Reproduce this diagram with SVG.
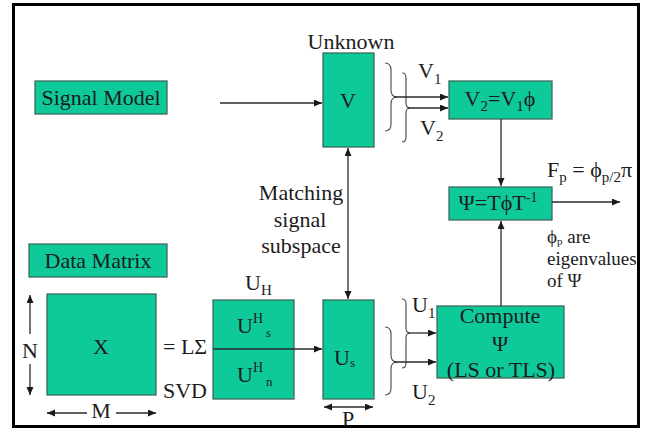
<svg xmlns="http://www.w3.org/2000/svg" width="653" height="430" viewBox="0 0 653 430">
<style>
.box{fill:#0ec99a;stroke:#3d6b5b;stroke-width:1.3}
text{font-family:'Liberation Serif','Nimbus Roman','Nimbus Roman No9 L','FreeSerif','Noto Serif','DejaVu Serif','Times New Roman',Times,serif;fill:#1c1c1c}
.t{font-size:22px}
.s{font-size:19px}
.m{text-anchor:middle}
.ln{fill:none;stroke:#2a2a2a;stroke-width:1.3}
.br{fill:none;stroke:#555;stroke-width:1.2}
</style>
<defs>
<marker id="ah" markerUnits="userSpaceOnUse" markerWidth="9" markerHeight="8" refX="8" refY="3.5" orient="auto-start-reverse">
<path d="M0,0 L8,3.5 L0,7 z" fill="#1a1a1a"/>
</marker>
</defs>
<rect x="0" y="0" width="653" height="430" fill="#fff"/>
<rect x="13.5" y="4.5" width="625" height="422" fill="#fff" stroke="#000" stroke-width="3"/>

<g id="signal-model"><rect class="box" x="35" y="81" width="132" height="33"/><text class="t m" x="101" y="105">Signal Model</text></g>
<g id="data-matrix"><rect class="box" x="29" y="244" width="138" height="33"/><text class="t m" x="98" y="268">Data Matrix</text></g>
<g id="v"><text class="t m" x="351" y="49">Unknown</text><rect class="box" x="323" y="53" width="51" height="94"/><text class="t m" x="348" y="108">V</text></g>
<g id="v2v1"><rect class="box" x="449" y="81" width="103" height="38"/><text class="t m" x="500" y="106">V<tspan font-size="15" dy="5">2</tspan><tspan dy="-5">=V</tspan><tspan font-size="15" dy="5">1</tspan><tspan dy="-5">ϕ</tspan></text></g>
<g id="psi"><rect class="box" x="449" y="187" width="103" height="33"/><text class="t m" x="498" y="210">Ψ=TϕT<tspan font-size="14" dy="-8">-1</tspan></text></g>
<g id="compute"><rect class="box" x="437" y="306" width="127" height="72"/><text class="t m" x="500" y="323">Compute</text><text class="t m" x="500" y="351">Ψ</text><text class="t m" x="501" y="377">(LS or TLS)</text></g>
<g id="x"><rect class="box" x="47" y="294" width="109" height="101"/><text class="t m" x="101" y="354">X</text></g>
<g id="uh"><rect class="box" x="213" y="300" width="81" height="99"/>
<text class="t" x="245" y="290">U<tspan font-size="15" dy="5">H</tspan></text>
<text class="t" x="237" y="333">U<tspan font-size="14" dy="-10">H</tspan><tspan font-size="13" dx="3" dy="14">s</tspan></text>
<text class="t" x="237" y="382">U<tspan font-size="14" dy="-10">H</tspan><tspan font-size="13" dx="3" dy="14">n</tspan></text></g>
<g id="us"><rect class="box" x="323" y="300" width="51" height="99"/><text class="t" x="334" y="365">U<tspan font-size="13" dy="2">s</tspan></text></g>

<g id="labels">
<text class="t" x="418" y="78">V<tspan font-size="15" dy="6">1</tspan></text>
<text class="t" x="420" y="135">V<tspan font-size="15" dy="6">2</tspan></text>
<text class="t" x="412" y="312">U<tspan font-size="15" dy="6">1</tspan></text>
<text class="t" x="412" y="399">U<tspan font-size="15" dy="6">2</tspan></text>
<text class="t" x="547" y="177">F<tspan font-size="15" dy="5">p</tspan><tspan dy="-5"> = ϕ</tspan><tspan font-size="15" dy="5">p/2</tspan><tspan dy="-5">π</tspan></text>
<text class="s" x="547" y="243">ϕ<tspan font-size="11" dy="2">p</tspan><tspan dy="-2"> are</tspan></text>
<text class="s" x="547" y="265">eigenvalues</text>
<text class="s" x="547" y="287">of Ψ</text>
<text class="t m" x="301" y="200">Matching</text>
<text class="t m" x="300" y="227">signal</text>
<text class="t m" x="301" y="253">subspace</text>
<text class="t" x="163" y="354">= LΣ</text>
<text class="t" x="163" y="398">SVD</text>
<text class="t m" x="30" y="358">N</text>
<text class="t m" x="101" y="418">M</text>
<text class="t m" x="348" y="426">P</text>
</g>

<g id="connectors">
<line class="ln" x1="220" y1="103" x2="322" y2="103" marker-end="url(#ah)"/>
<path class="br" d="M385,63 Q391,63 391,70 L391,90 Q391,97 397,97 Q391,97 391,104 L391,124 Q391,131 385,131"/>
<path class="br" d="M402,73 Q406,73 406,78 L406,103 Q406,108 410,108 Q406,108 406,113 L406,137 Q406,142 402,142"/>
<line class="ln" x1="394" y1="97" x2="448" y2="97" marker-end="url(#ah)"/>
<line class="ln" x1="408" y1="108" x2="448" y2="108" marker-end="url(#ah)"/>
<line class="ln" x1="501" y1="119" x2="501" y2="186" marker-end="url(#ah)"/>
<line class="ln" x1="552" y1="202" x2="620" y2="202" marker-end="url(#ah)"/>
<line class="ln" x1="501" y1="306" x2="501" y2="221" marker-end="url(#ah)"/>
<line class="ln" x1="348" y1="148" x2="348" y2="299" marker-start="url(#ah)" marker-end="url(#ah)"/>
<line class="ln" x1="213" y1="349" x2="322" y2="349" marker-end="url(#ah)"/>
<path class="br" d="M402,299 Q406,299 406,304 L406,328 Q406,333 410,333 Q406,333 406,338 L406,363 Q406,368 402,368"/>
<path class="br" d="M385,327 Q391,327 391,334 L391,355 Q391,362 397,362 Q391,362 391,369 L391,388 Q391,395 385,395"/>
<line class="ln" x1="408" y1="333" x2="436" y2="333" marker-end="url(#ah)"/>
<line class="ln" x1="394" y1="362" x2="436" y2="362" marker-end="url(#ah)"/>
<line class="ln" x1="324" y1="407" x2="373" y2="407" marker-start="url(#ah)" marker-end="url(#ah)"/>
<line class="ln" x1="30" y1="295" x2="30" y2="334" marker-start="url(#ah)"/>
<line class="ln" x1="30" y1="364" x2="30" y2="395" marker-end="url(#ah)"/>
<line class="ln" x1="47" y1="413" x2="87" y2="413" marker-start="url(#ah)"/>
<line class="ln" x1="116" y1="413" x2="156" y2="413" marker-end="url(#ah)"/>
</g>
</svg>
